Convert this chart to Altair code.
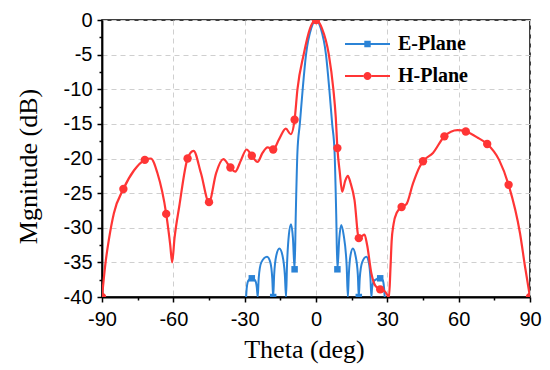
import altair as alt
import pandas as pd

# ---------------- data ----------------
# H-Plane (red) curve
h_theta = [-90, -88.5, -87.1, -85, -81, -76.5, -72, -69.5, -66.7, -63, -61.3, -60.5, -59.5,
           -57.5, -54, -51.5, -48.4, -45, -42, -39, -36, -34, -31.5, -29.2, -27, -24.6,
           -22.5, -20.4, -18, -15.5, -12.7, -10.6, -9, -7.8, -5.2, -2.5, 0,
           2.5, 5.4, 7.3, 8.3, 9, 10, 11, 12.3, 13.4, 14.5, 16.2, 18, 19.3, 20.4, 21.5,
           23.3, 25, 27, 29, 30.7, 31.3, 31.8, 32.6, 34, 36, 38, 40.8, 43.6, 45, 49.2,
           54, 59.5, 63, 68.5, 72, 77, 81, 85.8, 87.9, 90]
h_db = [-40, -35, -31.7, -27.9, -24.4, -21.7, -20.2, -20.0, -22.1, -28.0, -32.5, -35, -31.5,
        -26.9, -20.0, -18.9, -22.1, -26.3, -22.1, -20.1, -21.3, -21.9, -20.2, -18.7, -19.6, -20.5,
        -19.2, -18.4, -18.7, -17.2, -15.7, -16.5, -14.4, -10, -5, -1.2, 0,
        -1.2, -5, -10, -14, -18.5, -22, -24.8, -23.2, -22.5, -23.5, -26, -31.5, -31.2, -31, -32.5,
        -36.6, -38.4, -38.9, -39.2, -40, -36, -32, -29.5, -27.8, -27.0, -26.6, -23.6, -21.2, -20.4, -19.2,
        -16.8, -15.9, -16.1, -17.1, -17.9, -20.2, -23.8, -30.8, -35.6, -40]
# H-Plane markers
h_mark_theta = [-90, -81, -72, -63, -54, -45, -36, -27, -18, -9, 0, 9, 18, 27, 36, 45, 54, 63, 72, 81, 90]
h_mark_db = [-40, -24.4, -20.2, -28.0, -20.0, -26.3, -21.3, -19.6, -18.7, -14.4, 0, -18.5, -31.5,
             -38.9, -27.0, -20.4, -16.8, -16.1, -17.9, -23.8, -40]

# E-Plane (blue) curve
e_theta = [-29.4, -29.1, -28.4, -27, -25.6, -24.9, -24.5,
           -24.1, -23.0, -20.6, -19.2, -18.4, -18,
           -17.6, -16.7, -15.4, -14.1, -13.1, -12.6,
           -12.2, -11.4, -10.5, -9.7, -9, -8.5, -7.8, -6.8, -5.6, -4.2, -2, 0,
           2, 4.2, 5.6, 6.8, 7.8, 8.5, 9, 9.8, 10.6, 11.6, 12.9, 13.4,
           13.8, 14.5, 15.5, 16.6, 17.6, 18,
           18.4, 19.4, 21.2, 22.2, 22.9, 23.3,
           23.6, 24.6, 27, 28.1, 28.6, 28.9]
e_db = [-40, -38.6, -37.6, -37.3, -37.6, -38.6, -40,
        -37.3, -35, -34.2, -35, -37.3, -40,
        -36.8, -34, -33.0, -34, -36.8, -40,
        -35.5, -31, -29.5, -31.5, -36, -28, -19, -15, -10, -5, -1.2, 0,
        -1.2, -5, -10, -15, -19, -28, -36, -31.5, -29.6, -31, -35.5, -40,
        -36.8, -34, -33.0, -34, -36.8, -40,
        -37.3, -35, -34.2, -35, -37.3, -40,
        -38.6, -37.6, -37.3, -37.6, -38.6, -40]
# E-Plane markers
e_mark_theta = [-27, -18, -9, 0, 9, 18, 27]
e_mark_db = [-37.3, -40, -36, 0, -36, -40, -37.3]

series_names = ["E-Plane", "H-Plane"]
series_colors = ["#2B83D6", "#FF3535"]

x_ticks = [-90, -75, -60, -45, -30, -15, 0, 15, 30, 45, 60, 75, 90]
y_ticks = [0, -2.5, -5, -7.5, -10, -12.5, -15, -17.5, -20, -22.5, -25, -27.5, -30, -32.5,
           -35, -37.5, -40]

# ---------------- tables ----------------
h_line = pd.DataFrame({"theta": h_theta, "db": h_db})
e_line = pd.DataFrame({"theta": e_theta, "db": e_db})
h_pts = pd.DataFrame({"theta": h_mark_theta, "db": h_mark_db})
e_pts = pd.DataFrame({"theta": e_mark_theta, "db": e_mark_db})
legend_df = pd.concat([e_pts.assign(plane=series_names[0]), h_pts.assign(plane=series_names[1])])

# legend glyphs: line with marker (square / circle) as custom symbol paths
PATH_E = ("M-3.5,-0.11 L-1.57,-0.11 L-1.57,0.11 L-3.5,0.11 Z "
          "M-0.93,-0.11 L1,-0.11 L1,0.11 L-0.93,0.11 Z "
          "M-1.57,-0.32 L-0.93,-0.32 L-0.93,0.32 L-1.57,0.32 Z")
PATH_H = ("M-3.5,-0.11 L-1.65,-0.11 L-1.65,0.11 L-3.5,0.11 Z "
          "M-0.85,-0.11 L1,-0.11 L1,0.11 L-0.85,0.11 Z "
          "M-0.85,0 A0.4,0.4 0 1,1 -1.65,0 A0.4,0.4 0 1,1 -0.85,0 Z")

x_minor = "datum.value % 30 !== 0"
y_minor = "datum.value % 5 !== 0"

x_enc = alt.X(
    "theta:Q",
    scale=alt.Scale(domain=[-90, 90], nice=False, zero=False),
    axis=alt.Axis(
        values=x_ticks, title="Theta (deg)",
        labelExpr="datum.value % 30 === 0 ? toString(datum.value) : ''",
        tickSize={"condition": {"test": x_minor, "value": 3}, "value": 5},
        gridOpacity={"condition": {"test": x_minor, "value": 0}, "value": 1},
        labelFlush=False, labelOverlap=False, labelPadding=7,
        titlePadding=7, titleX=202,
    ),
)
y_enc = alt.Y(
    "db:Q",
    scale=alt.Scale(domain=[-40, 0], nice=False, zero=False),
    axis=alt.Axis(
        values=y_ticks, title="Mgnitude (dB)",
        labelExpr="datum.value % 5 === 0 ? toString(datum.value) : ''",
        tickSize={"condition": {"test": y_minor, "value": 3}, "value": 5},
        gridOpacity={"condition": {"test": y_minor, "value": 0}, "value": 1},
        labelOverlap=False, labelPadding=5, titlePadding=22, titleY=146,
    ),
)

e_curve = alt.Chart(e_line).mark_line(
    interpolate="monotone", color=series_colors[0], strokeWidth=2, clip=True
).encode(x=x_enc, y=y_enc, order="theta:Q")
e_marks = alt.Chart(e_pts).mark_square(
    color=series_colors[0], size=42, opacity=1, clip=True
).encode(x=x_enc, y=y_enc)

h_curve = alt.Chart(h_line).mark_line(
    interpolate="monotone", color=series_colors[1], strokeWidth=2.2, clip=True
).encode(x=x_enc, y=y_enc, order="theta:Q")
h_marks = alt.Chart(h_pts).mark_circle(
    color=series_colors[1], size=70, opacity=1, clip=True
).encode(x=x_enc, y=y_enc)

leg = alt.Legend(
    orient="none", legendX=268, legendY=14, title=None,
    labelFont="Liberation Serif", labelFontSize=20, labelFontWeight="bold",
    labelColor="black", labelOffset=8, labelLimit=300,
    symbolSize=400, symbolOpacity=1, symbolStrokeWidth=0,
    rowPadding=12, padding=0,
)
legend_layer = alt.Chart(legend_df).mark_point(
    filled=True, opacity=0, size=400
).encode(
    x=x_enc, y=y_enc,
    color=alt.Color("plane:N", scale=alt.Scale(domain=series_names, range=series_colors), legend=leg),
    shape=alt.Shape("plane:N", scale=alt.Scale(domain=series_names, range=[PATH_E, PATH_H]), legend=leg),
)

chart = alt.layer(e_curve, e_marks, h_curve, h_marks, legend_layer).properties(
    width=428, height=277,
    padding={"left": 102, "top": 20, "right": 20, "bottom": 73},
    autosize=alt.AutoSizeParams(type="none"),
    background="white",
).configure_view(
    stroke="black", strokeWidth=1.5
).configure_axis(
    domainColor="black", domainWidth=1.8, tickColor="black", tickWidth=1.5,
    grid=True, gridColor="#cfcfcf", gridDash=[5, 4], gridWidth=1,
    labelFont="Liberation Sans", labelFontSize=20, labelColor="black",
    titleFont="Liberation Serif", titleFontSize=26, titleFontWeight="normal", titleColor="black",
)

chart.save("out.html", embed_options={"renderer": "svg", "actions": False})
